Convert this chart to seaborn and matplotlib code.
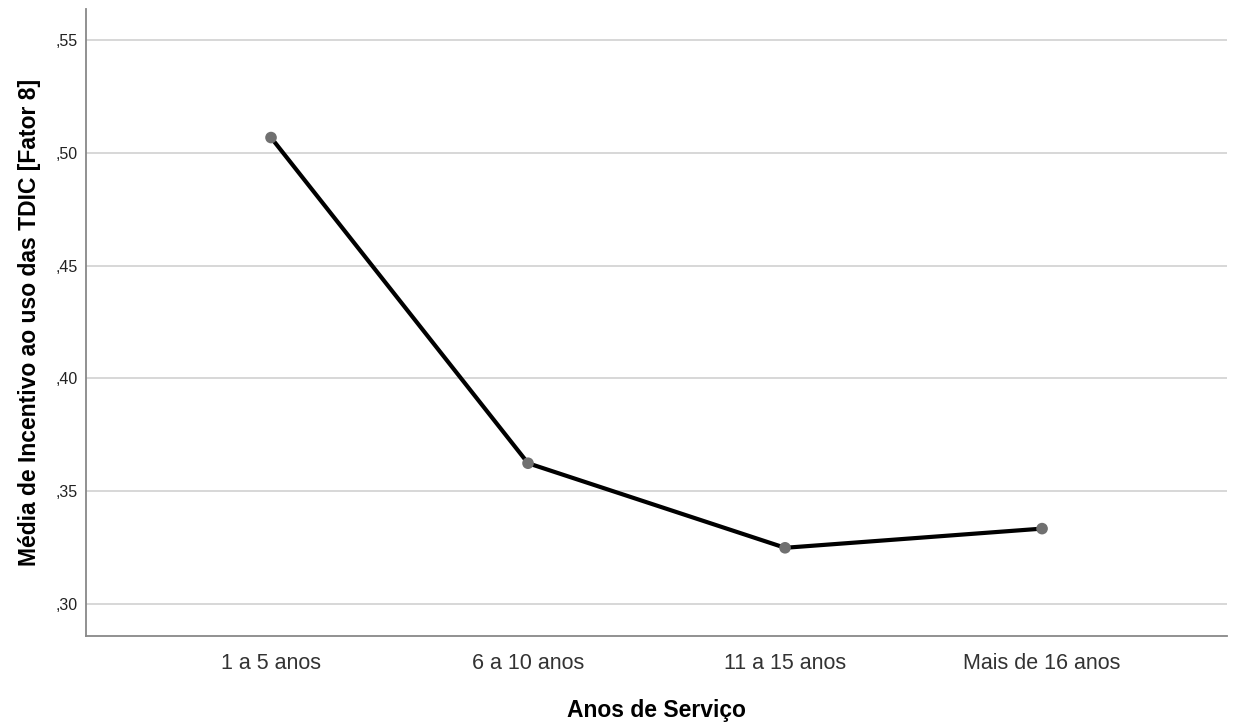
import matplotlib
matplotlib.use("Agg")
import matplotlib.pyplot as plt
import seaborn as sns
import pandas as pd
from matplotlib.ticker import FuncFormatter

categories = ["1 a 5 anos", "6 a 10 anos", "11 a 15 anos", "Mais de 16 anos"]
means = [0.5068, 0.3624, 0.3249, 0.3334]
yticks = [0.30, 0.35, 0.40, 0.45, 0.50, 0.55]

sns.set_theme(style="white")
plt.rcParams['font.family'] = ['Liberation Sans', 'DejaVu Sans']

df = pd.DataFrame({"cat": categories, "mean": means})

fig = plt.figure(figsize=(12.37, 7.26), dpi=100)
ax = fig.add_axes([0.0695, 0.124, 0.9225, 0.8636])

sns.lineplot(data=df, x="cat", y="mean", ax=ax, color="black", linewidth=3.0,
             sort=False, zorder=3)
sns.scatterplot(data=df, x="cat", y="mean", ax=ax, color="#707070", s=70,
                edgecolor="none", zorder=4)

ax.set_xlim(-0.72, 3.72)
ax.set_ylim(0.2858, 0.5638)
ax.set_yticks(yticks)
ax.yaxis.set_major_formatter(FuncFormatter(lambda v, p: ("%.2f" % v).lstrip("0").replace(".", ",")))
ax.grid(axis="y", color="#d4d4d4", linewidth=1.3)
ax.set_axisbelow(True)
for s in ["top", "right"]:
    ax.spines[s].set_visible(False)
for s in ["left", "bottom"]:
    ax.spines[s].set_color("#888888")
    ax.spines[s].set_linewidth(1.3)
ax.tick_params(axis="y", length=0, labelsize=11.5, colors="#222222", pad=6)
ax.tick_params(axis="x", length=0, labelsize=15.5, colors="#333333", pad=12)

ax.set_xlabel("Anos de Serviço", fontsize=16.5, fontweight="bold", labelpad=18,
              color="black")
ax.set_ylabel("Média de Incentivo ao uso das TDIC [Fator 8]", fontsize=16.5,
              fontweight="bold", labelpad=10, color="black")

fig.savefig("out.png", dpi=100)
